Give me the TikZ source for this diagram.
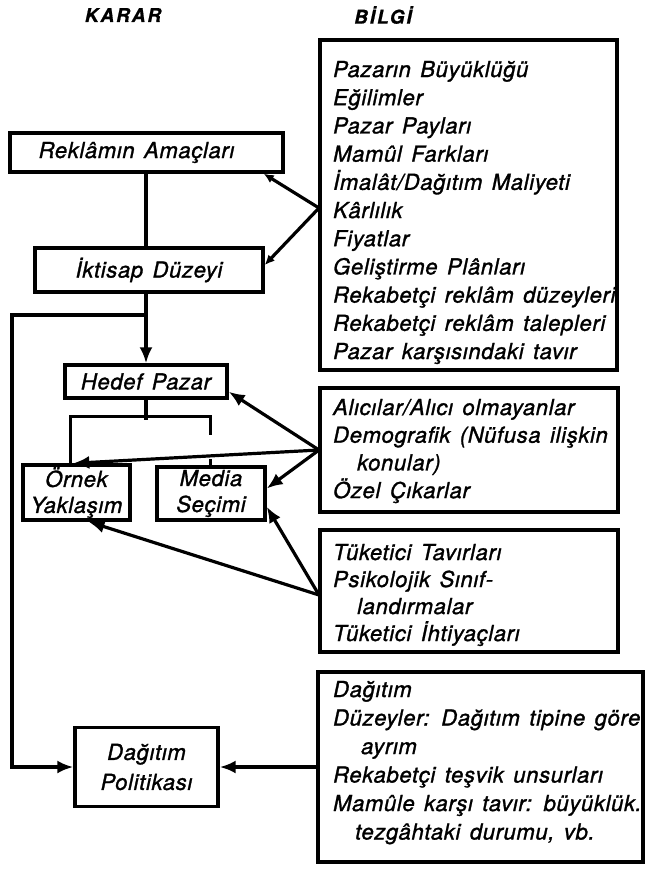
\documentclass[tikz,border=0pt]{standalone}
\usepackage{fontspec}
\setmainfont{TeX Gyre Heros}
\newfontfamily\bodyfont[LetterSpace=3,WordSpace=1.4,FakeBold=1.3]{TeX Gyre Heros}
\newfontfamily\hdrfont[LetterSpace=10,FakeBold=0.8]{TeX Gyre Heros}
\usetikzlibrary{arrows.meta,calc}
\begin{document}
\begin{tikzpicture}[x=1pt,y=-1pt,
  txt/.style={font=\bodyfont\itshape\fontsize{22}{26}\selectfont, inner sep=0pt},
  box/.style={draw, line width=3.4pt, inner sep=0pt, align=center, txt},
  infobox/.style={draw, line width=3.4pt, inner sep=0pt},
  textline/.style={anchor=base west, txt},
  hdr/.style={font=\hdrfont\bfseries\itshape\fontsize{19}{21}\selectfont, inner sep=0pt},
  conn/.style={line width=3.2pt},
  arr/.style={conn, -{Latex[length=16pt,width=13pt]}},
  sarr/.style={conn, -{Latex[length=10pt,width=9pt]}}]
\useasboundingbox (0,0) rectangle (645,870);

% headers
\node[hdr] (karar) at (123,15) {KARAR};
\node[hdr] (bilgi) at (383,15) {BİLGİ};

% decision boxes
\node[box, minimum width=273pt, minimum height=39pt] (ramac) at (146.5,152.5) {Reklâmın Amaçları\hspace*{20pt}};
\node[box, minimum width=228pt, minimum height=44pt] (iktisap) at (149,270) {İktisap Düzeyi};
\node[box, minimum width=162pt, minimum height=33pt] (hedef) at (146,381.5) {Hedef Pazar};
\node[box, minimum width=107pt, minimum height=55pt] (ornek) at (76.5,492.5) {Örnek\\Yaklaşım};
\node[box, minimum width=108pt, minimum height=53pt] (media) at (211,493.5) {Media\\Seçimi};
\node[box, minimum width=143pt, minimum height=79pt, font=\bodyfont\itshape\fontsize{22}{30}\selectfont] (dagpol) at (146.5,767) {Dağıtım\\Politikası};

% info boxes
\node[infobox, minimum width=297pt, minimum height=330pt] (b1) at (468.5,205) {};
\node[infobox, minimum width=298pt, minimum height=124pt] (b2) at (469,450) {};
\node[infobox, minimum width=298pt, minimum height=122pt] (b3) at (469,591) {};
\node[infobox, minimum width=325pt, minimum height=190pt] (b4) at (480.5,767) {};

% info texts
\foreach \t [count=\i] in {Pazarın Büyüklüğü, Eğilimler, Pazar Payları, Mamûl Farkları,
  İmalât/Dağıtım Maliyeti, Kârlılık, Fiyatlar, Geliştirme Plânları,
  Rekabetçi reklâm düzeyleri, Rekabetçi reklâm talepleri, Pazar karşısındaki tavır}
  \node[textline] (b1t\i) at (333, 77+28.2*\i-28.2) {\t};

\foreach \t [count=\i] in {Alıcılar/Alıcı olmayanlar, Demografik (Nüfusa ilişkin,
  \hspace*{24pt}konular), Özel Çıkarlar}
  \node[textline] (b2t\i) at (333, 415+27.7*\i-27.7) {\t};

\foreach \t [count=\i] in {Tüketici Tavırları, Psikolojik Sınıf-,
  \hspace*{24pt}landırmalar, Tüketici İhtiyaçları}
  \node[textline] (b3t\i) at (333, 560+27*\i-27) {\t};

\foreach \t [count=\i] in {Dağıtım, Düzeyler: Dağıtım tipine göre, \hspace*{28pt}ayrım,
  Rekabetçi teşvik unsurları, Mamûle karşı tavır: büyüklük., {\hspace*{22pt}tezgâhtaki durumu, vb.}}
  \node[textline] (b4t\i) at (333, 697+28.5*\i-28.5) {\t};

% junction coordinates
\coordinate (j1) at (319,208);
\coordinate (j2) at (319,450);
\coordinate (j3) at (319,595);
\coordinate (jl) at (146,315);

% main chain
\draw[conn] (ramac.south -| hedef.north) -- (iktisap.north -| hedef.north);
\draw[arr] (iktisap.south -| hedef.north) -- (hedef.north);
\draw[arr] (jl) -- ++(-134,0) |- (dagpol.west);
\draw[conn] (hedef.south) -- ++(0,20) coordinate (hb);
\draw[conn] ($(ornek.north west)+(49,0)$) |- ($(media.north west)+(55,-49)$) -- ++(0,19);
\draw[conn] ($(media.north west)+(55,-6)$) -- ++(0,6);

% info links
\draw[sarr] (j1) -- ($(ramac.south east)+(-21,0)$);
\draw[sarr] (j1) -- ($(iktisap.east)+(0,-5)$);
\draw[arr] (j2) -- ($(hedef.south east)+(0,-8)$);
\draw[arr] (j2) -- ($(ornek.north west)+(52,0)$);
\draw[arr] (j2) -- ($(media.east)+(0,-5)$);
\draw[arr] (j3) -- ($(media.south east)+(0,-15)$);
\draw[arr] (j3) -- ($(ornek.south)+(12,0)$);
\draw[arr] (b4.west) -- (dagpol.east);
\end{tikzpicture}
\end{document}
